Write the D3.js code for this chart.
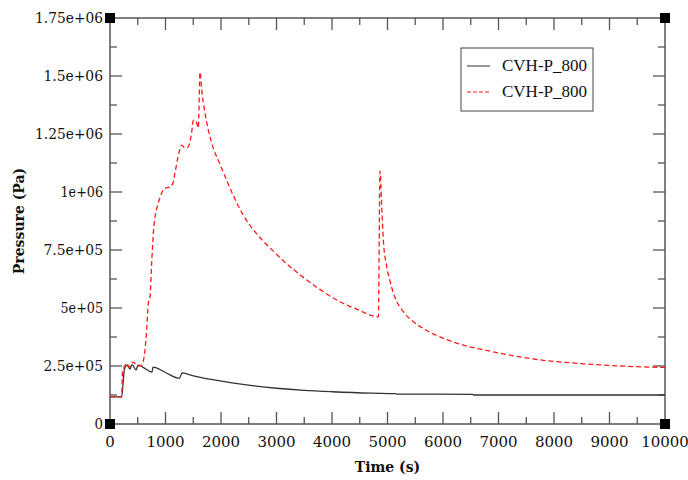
<!DOCTYPE html>
<html>
<head>
<meta charset="utf-8">
<script src="https://cdn.jsdelivr.net/npm/d3@7"></script>
<style>
  body { margin: 0; background: #fff; }
  .tick-label { font-family: "DejaVu Serif", serif; font-size: 15px; fill: #111; }
  .axis-title { font-family: "DejaVu Serif", serif; font-weight: bold; font-size: 14px; fill: #111; }
  .legend-text { font-family: "Liberation Serif", serif; font-size: 17px; fill: #111; }
</style>
</head>
<body>
<script>
var width = 688;
var height = 480;

// ------- data --------

var seriesNames = ['CVH-P_800', 'CVH-P_800'];

// black curve
var blackTime = [0, 210, 258, 306, 360, 396, 470, 505, 757, 775, 1000, 1250, 1300, 1450, 1650, 1900, 2200, 2600, 3000, 3500, 4000, 4700, 5150, 5160, 6540, 6550, 10000];
var blackPres = [117e3, 117e3, 232e3, 254e3, 237e3, 256e3, 233e3, 254e3, 224e3, 245e3, 222e3, 197e3, 220e3, 211e3, 200e3, 189e3, 177e3, 164e3, 154e3, 145e3, 139e3, 133e3, 131e3, 129e3, 128e3, 125e3, 125e3];

// red dashed curve
var redTime = [0, 210, 225, 306, 340, 414, 505, 570, 630, 661, 690, 720, 751, 781, 811, 870, 931, 991, 1081, 1135, 1171, 1225, 1292, 1351, 1405, 1472, 1500, 1562, 1591, 1622, 1652, 1712, 1832, 1982, 2042, 2222, 2402, 2643, 2943, 3244, 3544, 3844, 4145, 4445, 4835, 4865, 4896, 4925, 4986, 5046, 5136, 5286, 5466, 5707, 6007, 6367, 6787, 7208, 7689, 8290, 8890, 9491, 10000];
var redPres = [117e3, 117e3, 224e3, 262e3, 245e3, 267e3, 250e3, 254e3, 319e3, 405e3, 521e3, 547e3, 694e3, 823e3, 892e3, 952e3, 996e3, 1017e3, 1021e3, 1039e3, 1082e3, 1151e3, 1202e3, 1190e3, 1194e3, 1258e3, 1310e3, 1297e3, 1276e3, 1517e3, 1440e3, 1340e3, 1211e3, 1120e3, 1085e3, 985e3, 900e3, 820e3, 745e3, 678e3, 621e3, 570e3, 527e3, 495e3, 462e3, 1090e3, 937e3, 793e3, 678e3, 615e3, 545e3, 484e3, 441e3, 403e3, 369e3, 340e3, 317e3, 297e3, 278e3, 264e3, 254e3, 247e3, 244e3];

var xTicks = [0, 1000, 2000, 3000, 4000, 5000, 6000, 7000, 8000, 9000, 10000];
var yTicks = [0, 2.5e5, 5e5, 7.5e5, 1e6, 1.25e6, 1.5e6, 1.75e6];
var yTickLabels = ['0', '2.5e+05', '5e+05', '7.5e+05', '1e+06', '1.25e+06', '1.5e+06', '1.75e+06'];

// ------- SVG --------

var svg = d3.select('body')
    .append('svg')
    .attr('width', width)
    .attr('height', height);

var pLeft = 110, pRight = 665, pTop = 18, pBottom = 424;

var x = d3.scaleLinear().domain([0, 10000]).range([pLeft, pRight]);
var y = d3.scaleLinear().domain([0, 1.75e6]).range([pBottom, pTop]);

var frameColor = '#555';

// frame
svg.append('rect')
    .attr('x', pLeft).attr('y', pTop)
    .attr('width', pRight - pLeft).attr('height', pBottom - pTop)
    .attr('fill', 'none')
    .attr('stroke', frameColor)
    .attr('stroke-width', 1.5);

// ticks (inward, all four sides)
var xMinor = d3.range(500, 10000, 1000);
var yMinor = d3.range(1.25e5, 1.75e6, 2.5e5);

function tickLines(vals, len, horizontal) {
    vals.forEach(function(v) {
        if (horizontal) {
            svg.append('line').attr('x1', x(v)).attr('x2', x(v)).attr('y1', pBottom).attr('y2', pBottom - len)
                .attr('stroke', frameColor).attr('stroke-width', 1.3);
            svg.append('line').attr('x1', x(v)).attr('x2', x(v)).attr('y1', pTop).attr('y2', pTop + len)
                .attr('stroke', frameColor).attr('stroke-width', 1.3);
        } else {
            svg.append('line').attr('y1', y(v)).attr('y2', y(v)).attr('x1', pLeft).attr('x2', pLeft + len)
                .attr('stroke', frameColor).attr('stroke-width', 1.3);
            svg.append('line').attr('y1', y(v)).attr('y2', y(v)).attr('x1', pRight).attr('x2', pRight - len)
                .attr('stroke', frameColor).attr('stroke-width', 1.3);
        }
    });
}
tickLines(xTicks.slice(1, -1), 12, true);
tickLines(xMinor, 7, true);
tickLines(yTicks.slice(1, -1), 12, false);
tickLines(yMinor, 7, false);

// tick labels
svg.selectAll('text.xlab')
    .data(xTicks)
    .enter()
    .append('text')
    .attr('class', 'tick-label')
    .attr('x', function(d) { return x(d); })
    .attr('y', pBottom + 23)
    .attr('text-anchor', 'middle')
    .text(function(d) { return d; });

svg.selectAll('text.ylab')
    .data(yTicks)
    .enter()
    .append('text')
    .attr('class', 'tick-label')
    .attr('x', pLeft - 7)
    .attr('y', function(d) { return y(d) + 5; })
    .attr('text-anchor', 'end')
    .attr('textLength', function(d, i) { return yTickLabels[i].length * 8.5; })
    .attr('lengthAdjust', 'spacingAndGlyphs')
    .text(function(d, i) { return yTickLabels[i]; });

// axis titles
svg.append('text')
    .attr('class', 'axis-title')
    .attr('x', (pLeft + pRight) / 2)
    .attr('y', 472)
    .attr('text-anchor', 'middle')
    .text('Time (s)');

svg.append('text')
    .attr('class', 'axis-title')
    .attr('transform', 'translate(24,' + ((pTop + pBottom) / 2) + ') rotate(-90)')
    .attr('text-anchor', 'middle')
    .text('Pressure (Pa)');

// lines
var line = d3.line()
    .curve(d3.curveMonotoneX)
    .x(function(d) { return x(d[0]); })
    .y(function(d) { return y(d[1]); });

var blackData = blackTime.map(function(t, i) { return [t, blackPres[i]]; });
var redData = redTime.map(function(t, i) { return [t, redPres[i]]; });

svg.append('path')
    .datum(blackData)
    .attr('d', line)
    .attr('fill', 'none')
    .attr('stroke', '#333')
    .attr('stroke-width', 1.3);

svg.append('path')
    .datum(redData)
    .attr('d', line)
    .attr('fill', 'none')
    .attr('stroke', '#ff1a1a')
    .attr('stroke-width', 1.3)
    .attr('stroke-dasharray', '5,3');

// corner squares
[[pLeft, pTop], [pRight, pTop], [pLeft, pBottom], [pRight, pBottom]].forEach(function(c) {
    svg.append('rect')
        .attr('x', c[0] - 5).attr('y', c[1] - 5)
        .attr('width', 10).attr('height', 10)
        .attr('fill', '#000');
});

// legend
var lg = svg.append('g');
lg.append('rect')
    .attr('x', 461).attr('y', 48)
    .attr('width', 132).attr('height', 63)
    .attr('fill', '#fff')
    .attr('stroke', '#444')
    .attr('stroke-width', 1);

var legendStyles = [
    { stroke: '#333', dash: null },
    { stroke: '#ff1a1a', dash: '4,2' }
];
seriesNames.forEach(function(name, i) {
    var ly = 66 + i * 26;
    lg.append('line')
        .attr('x1', 467).attr('x2', 490)
        .attr('y1', ly).attr('y2', ly)
        .attr('stroke', legendStyles[i].stroke)
        .attr('stroke-width', 1)
        .attr('stroke-dasharray', legendStyles[i].dash);
    lg.append('text')
        .attr('class', 'legend-text')
        .attr('x', 502)
        .attr('y', ly + 5)
        .text(name);
});
</script>
</body>
</html>
